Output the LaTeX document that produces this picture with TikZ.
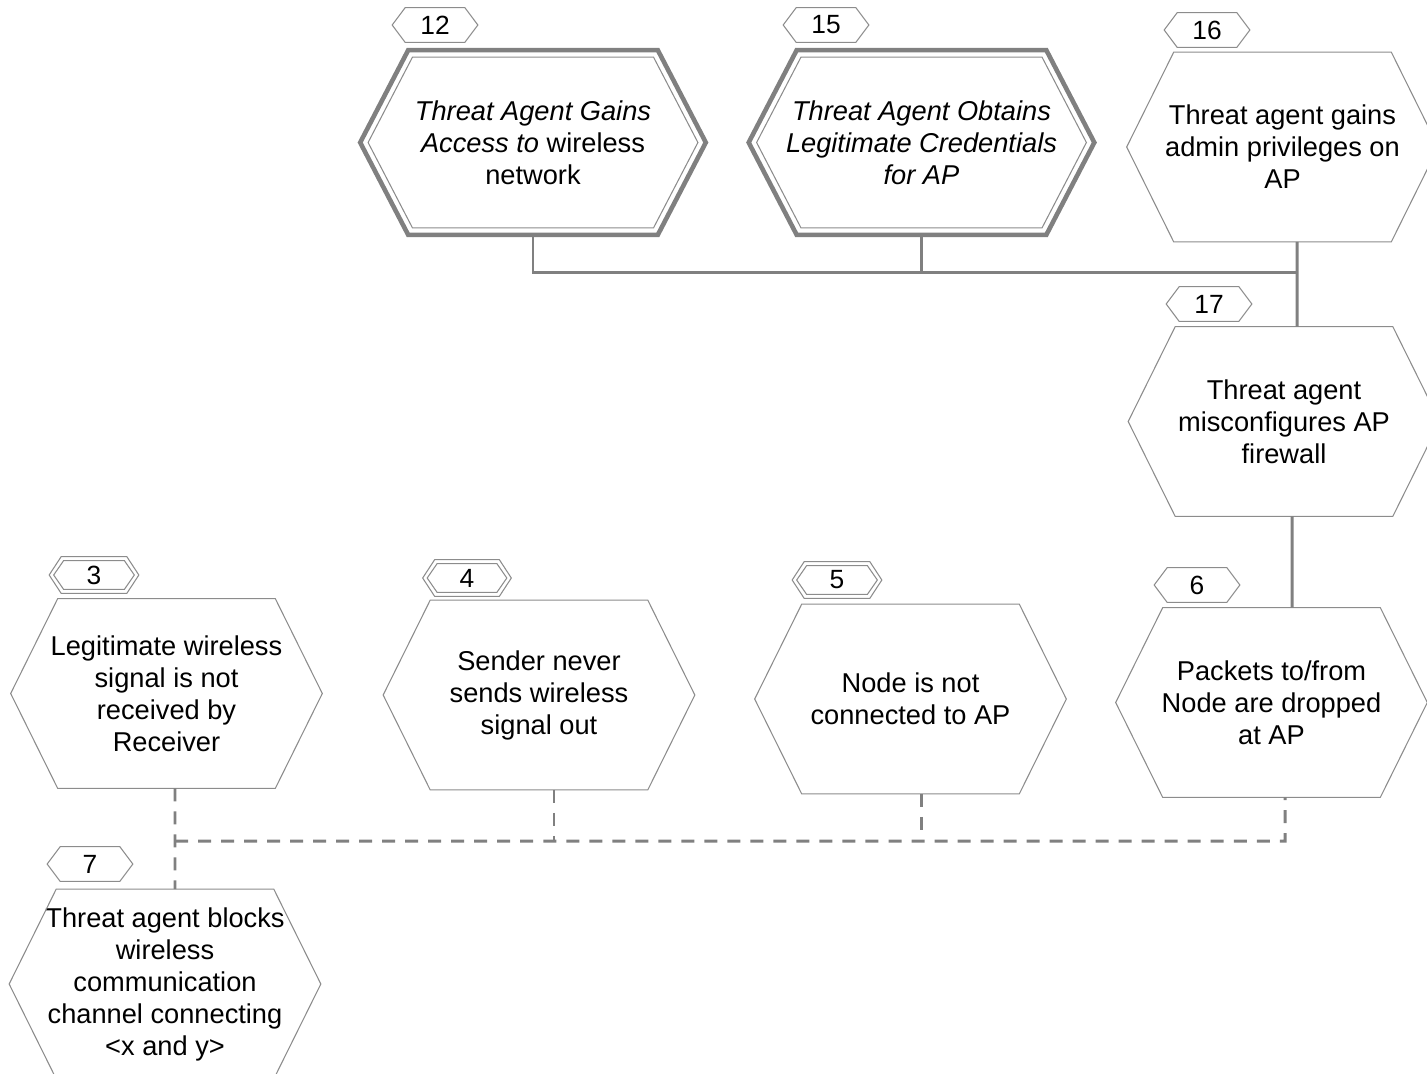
\documentclass[tikz,border=0pt]{standalone}
\usepackage{fontspec}
\setmainfont{Liberation Sans}
\usetikzlibrary{calc}
\definecolor{linkgray}{RGB}{128,128,128}
\definecolor{rimgray}{RGB}{140,140,140}
\newcommand\drawhex[4][]{%
  \draw[#1] ($(#2.west)+(1.13*#4,0)$) -- ($(#2.north west)+(#3+0.61*#4,#4)$)
    -- ($(#2.north east)+(-#3-0.61*#4,#4)$) -- ($(#2.east)+(-1.13*#4,0)$)
    -- ($(#2.south east)+(-#3-0.61*#4,-#4)$) -- ($(#2.south west)+(#3+0.61*#4,-#4)$) -- cycle;}

\begin{document}
\begin{tikzpicture}[x=0.02cm,y=-0.02cm,
    hex/.style={minimum width=6.22cm,minimum height=3.78cm,inner sep=0pt,align=center,
      font=\fontsize{15.5}{18.2}\selectfont},
    bighex/.style={hex,minimum width=6.9cm,minimum height=3.68cm},
    tag/.style={minimum width=1.7cm,minimum height=0.68cm,inner sep=0pt,
      font=\fontsize{15}{17}\selectfont},
    rim/.style={draw=rimgray,line width=0.6pt},
    heavyrim/.style={draw=linkgray,line width=2.6pt},
    link/.style={draw=linkgray,line width=1.7pt},
    dlink/.style={link,dash pattern=on 7.4pt off 5.7pt}]
  \useasboundingbox (0,0) rectangle (1427,1073);
  \clip (0,0) rectangle (1427,1073);

  % top row
  \node[bighex] (g12) at (533,142.5) {\textit{Threat Agent Gains}\\\textit{Access to} wireless\\network};
  \node[bighex] (g15) at (921.5,142.5) {\textit{Threat Agent Obtains}\\\textit{Legitimate Credentials}\\\textit{for AP}};
  \node[hex] (g16) at (1282.5,147) {Threat agent gains\\admin privileges on\\AP};
  \node[hex] (g17) at (1284,421.5) {Threat agent\\misconfigures AP\\firewall};
  % bottom row
  \node[hex] (g3) at (166.5,693.5) {Legitimate wireless\\signal is not\\received by\\Receiver};
  \node[hex] (g4) at (539,695) {Sender never\\sends wireless\\signal out};
  \node[hex] (g5) at (910.5,699) {Node is not\\connected to AP};
  \node[hex] (g6) at (1271.5,702.5) {Packets to/from\\Node are dropped\\at AP};
  \node[hex] (g7) at (165,984) {Threat agent blocks\\wireless\\communication\\channel connecting\\{<}x and y{>}};

  \node[tag] (t12) at (435,25) {12};
  \node[tag] (t15) at (826,25) {15};
  \node[tag] (t16) at (1207,30) {16};
  \node[tag] (t17) at (1209,304) {17};
  \node[tag,minimum width=1.78cm,minimum height=0.72cm] (t3) at (94,575) {3};
  \node[tag,minimum width=1.76cm,minimum height=0.72cm] (t4) at (467,578) {4};
  \node[tag,minimum width=1.78cm,minimum height=0.72cm] (t5) at (837,580) {5};
  \node[tag] (t6) at (1197,585) {6};
  \node[tag] (t7) at (90,864) {7};

  \foreach \n in {g3,g4,g5,g6,g7,g16,g17} \drawhex[rim]{\n}{47}{0};
  \foreach \n in {g12,g15} {
    \drawhex[heavyrim]{\n}{48}{0};
    \drawhex[rim]{\n}{48}{7};
  }
  \foreach \n in {t12,t15,t16,t17,t6,t7} \drawhex[rim]{\n}{13}{0};
  \foreach \n in {t3,t4,t5} {
    \drawhex[rim]{\n}{12}{0};
    \drawhex[rim]{\n}{12}{4};
  }

  \coordinate (jt) at (1297,272);
  \coordinate (jd) at (1285,841);
  \coordinate (d3) at ($(g3.south)+(8.5,0)$);
  \coordinate (d4) at ($(g4.south)+(15,0)$);
  \coordinate (d5) at ($(g5.south)+(10.5,0)$);
  \draw[link] (g12.south) |- (jt);
  \draw[link] (g15.south) -- (g15.south |- jt);
  \draw[link] ($(g16.south)+(14.5,0)$) -- ($(g17.north)+(13,0)$);
  \draw[link] ($(g17.south)+(8,0)$) -- ($(g6.north)+(20.5,0)$);

  \draw[dlink] (d3) -- ($(g7.north)+(10,0)$);
  \draw[dlink] (d3 |- jd) -- (jd) -- ($(g6.south)+(13.5,0)$);
  \draw[dlink] (d4) -- (d4 |- jd);
  \draw[dlink] (d5) -- (d5 |- jd);
\end{tikzpicture}
\end{document}
